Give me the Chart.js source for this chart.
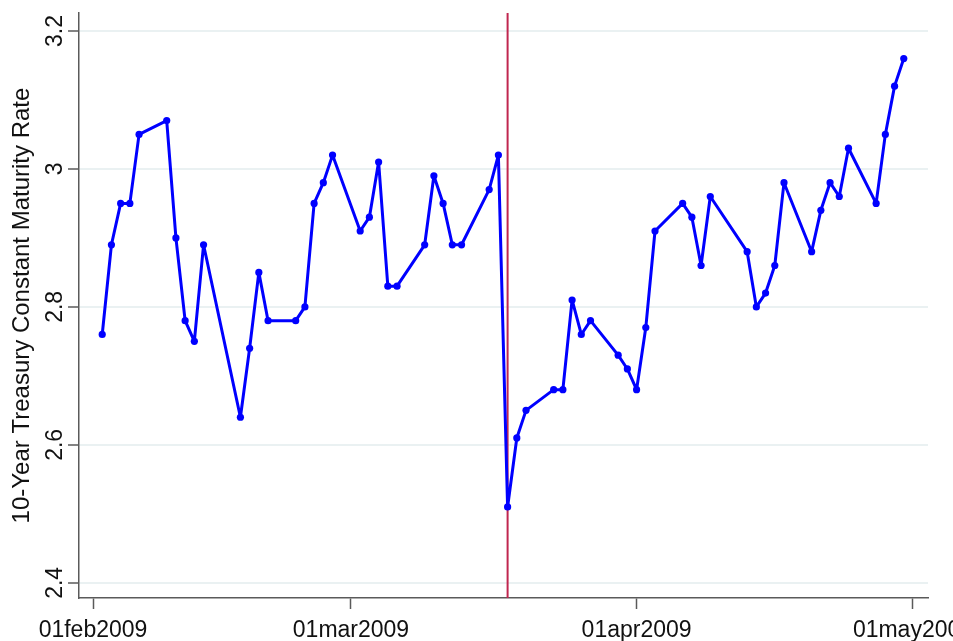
<!DOCTYPE html>
<html>
<head>
<meta charset="utf-8">
<script src="https://cdn.jsdelivr.net/npm/chart.js@4.4.1/dist/chart.umd.min.js"></script>
<style>
    html, body { margin: 0; padding: 0; background: #fff; }
    #wrap { width: 953px; height: 641px; position: relative; }
</style>
</head>
<body>
<div id="wrap"><canvas id="rateChart"></canvas></div>
<script>
// Trading days, Feb-Apr 2009
const febDays = [2, 3, 4, 5, 6, 9, 10, 11, 12, 13, 17, 18, 19, 20, 23, 24, 25, 26, 27];
const marDays = [2, 3, 4, 5, 6, 9, 10, 11, 12, 13, 16, 17, 18, 19, 20, 23, 24, 25, 26, 27, 30, 31];
const aprDays = [1, 2, 3, 6, 7, 8, 9, 13, 14, 15, 16, 17, 20, 21, 22, 23, 24, 27, 28, 29, 30];

// 10-year constant maturity rate
const febRates = [2.76, 2.89, 2.95, 2.95, 3.05, 3.07, 2.90, 2.78, 2.75, 2.89, 2.64, 2.74, 2.85, 2.78, 2.78, 2.80, 2.95, 2.98, 3.02];
const marRates = [2.91, 2.93, 3.01, 2.83, 2.83, 2.89, 2.99, 2.95, 2.89, 2.89, 2.97, 3.02, 2.51, 2.61, 2.65, 2.68, 2.68, 2.81, 2.76, 2.78, 2.73, 2.71];
const aprRates = [2.68, 2.77, 2.91, 2.95, 2.93, 2.86, 2.96, 2.88, 2.80, 2.82, 2.86, 2.98, 2.88, 2.94, 2.98, 2.96, 3.03, 2.95, 3.05, 3.12, 3.16];

const xTickDates = [[2009, 2, 1], [2009, 3, 1], [2009, 4, 1], [2009, 5, 1]];
const xTickLabels = ['01feb2009', '01mar2009', '01apr2009', '01may2009'];
const yTicks = [2.4, 2.6, 2.8, 3.0, 3.2];
const yTickLabels = ['2.4', '2.6', '2.8', '3', '3.2'];
const eventDate = [2009, 3, 18];
const yTitle = '10-Year Treasury Constant Maturity Rate';

// days since 01feb2009
const base = Date.UTC(2009, 1, 1);
function dayNum(y, m, d) { return (Date.UTC(y, m - 1, d) - base) / 86400000; }

const points = [];
febDays.forEach((d, i) => points.push({ x: dayNum(2009, 2, d), y: febRates[i] }));
marDays.forEach((d, i) => points.push({ x: dayNum(2009, 3, d), y: marRates[i] }));
aprDays.forEach((d, i) => points.push({ x: dayNum(2009, 4, d), y: aprRates[i] }));

const xTicks = xTickDates.map(t => dayNum(t[0], t[1], t[2]));
const eventX = dayNum(eventDate[0], eventDate[1], eventDate[2]);

const FONT = '"Liberation Sans", Arial, sans-serif';
const AXIS = '#5a5a5a';

// labels, title and event line drawn by hand (Stata style rotated y labels)
const stataLook = {
    id: 'stataLook',
    beforeDatasetsDraw(chart) {
        const ctx = chart.ctx;
        const xs = chart.scales.x;
        const area = chart.chartArea;
        const px = xs.getPixelForValue(eventX);
        ctx.save();
        ctx.strokeStyle = '#c0264f';
        ctx.lineWidth = 2;
        ctx.beginPath();
        ctx.moveTo(px, area.top);
        ctx.lineTo(px, area.bottom);
        ctx.stroke();
        ctx.restore();
    },
    afterDraw(chart) {
        const ctx = chart.ctx;
        const xs = chart.scales.x;
        const ys = chart.scales.y;
        ctx.save();
        ctx.fillStyle = '#111';
        ctx.font = '23px ' + FONT;
        ctx.textAlign = 'center';
        ctx.textBaseline = 'alphabetic';
        xTicks.forEach((v, i) => {
            ctx.fillText(xTickLabels[i], xs.getPixelForValue(v), 637);
        });
        yTicks.forEach((v, i) => {
            ctx.save();
            ctx.translate(56, ys.getPixelForValue(v));
            ctx.rotate(-Math.PI / 2);
            ctx.textBaseline = 'middle';
            ctx.fillText(yTickLabels[i], 0, 0);
            ctx.restore();
        });
        ctx.font = '24px ' + FONT;
        ctx.translate(22, (ys.top + ys.bottom) / 2);
        ctx.rotate(-Math.PI / 2);
        ctx.textBaseline = 'middle';
        ctx.fillText(yTitle, 0, 0);
        ctx.restore();
    }
};

new Chart(document.getElementById('rateChart'), {
    type: 'line',
    data: {
        datasets: [{
            label: yTitle,
            data: points,
            borderColor: '#0000ff',
            backgroundColor: '#0000ff',
            borderWidth: 3,
            borderJoinStyle: 'round',
            pointRadius: 3.6,
            pointHoverRadius: 3.6,
            pointBorderWidth: 0,
            tension: 0,
            fill: false
        }]
    },
    options: {
        responsive: true,
        maintainAspectRatio: false,
        animation: false,
        layout: { padding: { top: 13, right: 25, left: 0, bottom: 0 } },
        plugins: {
            legend: { display: false },
            tooltip: { enabled: false }
        },
        scales: {
            x: {
                type: 'linear',
                min: -1.52,
                max: 90.63,
                afterBuildTicks: s => { s.ticks = xTicks.map(v => ({ value: v })); },
                afterFit: s => { s.height = 43; },
                ticks: { display: false },
                grid: { drawOnChartArea: false, drawTicks: true, tickLength: 11, tickColor: AXIS, tickWidth: 1.5 },
                border: { color: AXIS, width: 1.5 }
            },
            y: {
                min: 2.378,
                max: 3.226,
                afterBuildTicks: s => { s.ticks = yTicks.map(v => ({ value: v })); },
                afterFit: s => { s.width = 79; },
                ticks: { display: false },
                grid: { color: '#eaf1f2', lineWidth: 2, drawTicks: true, tickLength: 11, tickColor: AXIS, tickWidth: 1.5 },
                border: { color: AXIS, width: 1.5 }
            }
        }
    },
    plugins: [stataLook]
});
</script>
</body>
</html>
